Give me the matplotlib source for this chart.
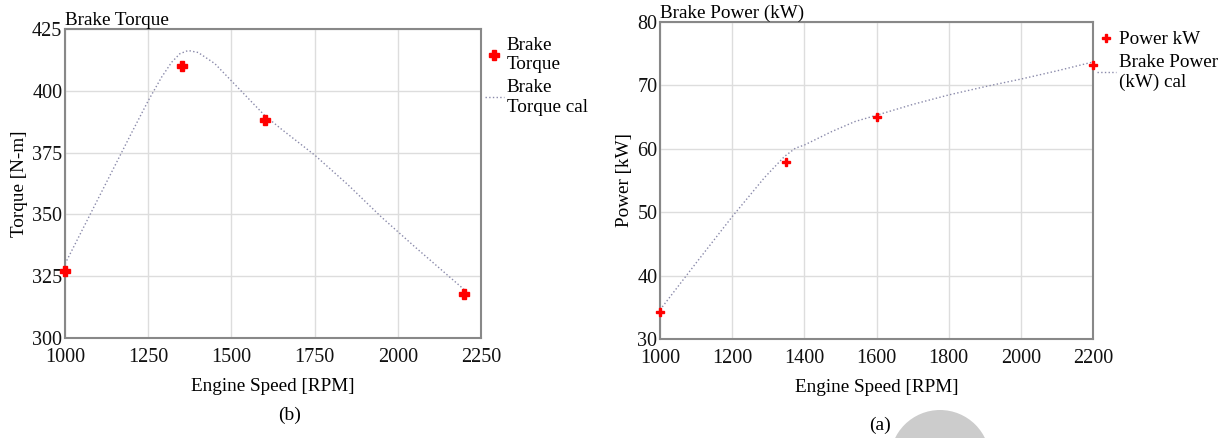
import matplotlib
matplotlib.use("Agg")
import matplotlib.pyplot as plt
from matplotlib.patches import Ellipse

plt.rcParams['font.family'] = ['Liberation Serif', 'DejaVu Serif']

# measured torque (b)
torque_rpm = [1000, 1350, 1600, 2200]
torque_nm = [327, 410, 388, 318]
# calculated torque curve
torque_cal_rpm = [1000, 1100, 1200, 1250, 1290, 1320, 1345, 1370, 1400, 1450,
                  1500, 1550, 1600, 1650, 1750, 1850, 1950, 2050, 2200]
torque_cal_nm = [330, 356.5, 383, 396, 405.5, 411.5, 415, 416.3, 415.5, 411,
                 404, 397, 390, 384.5, 374, 362, 349, 337, 319.5]

# measured power (a)
power_rpm = [1000, 1350, 1600, 2200]
power_kw = [34.3, 58.0, 65.0, 73.2]
power_cal_rpm = [1000, 1100, 1200, 1290, 1345, 1375, 1400, 1475, 1540, 1600,
                 1700, 1800, 1900, 2000, 2100, 2200]
power_cal_kw = [34.6, 42.0, 49.3, 55.5, 58.8, 60.1, 60.6, 62.7, 64.3, 65.3,
                67.0, 68.5, 69.8, 71.0, 72.3, 73.7]

torque_xticks = [1000, 1250, 1500, 1750, 2000, 2250]
torque_yticks = [300, 325, 350, 375, 400, 425]
power_xticks = [1000, 1200, 1400, 1600, 1800, 2000, 2200]
power_yticks = [30, 40, 50, 60, 70, 80]

fig = plt.figure(figsize=(12.25, 4.38), dpi=100)
ax1 = fig.add_axes([0.0531, 0.2283, 0.3396, 0.7055])
ax2 = fig.add_axes([0.5388, 0.2260, 0.3535, 0.7237])

line_col = '#8a8aaa'


def style(ax, xt, yt):
    ax.set_xticks(xt)
    ax.set_yticks(yt)
    ax.set_xlim(xt[0], xt[-1])
    ax.set_ylim(yt[0], yt[-1])
    ax.grid(True, color='#dddddd', linewidth=1)
    ax.set_axisbelow(True)
    ax.tick_params(length=0, labelsize=14.5, pad=2, colors='#111111')
    ax.tick_params(axis='x', pad=7)
    for s in ax.spines.values():
        s.set_color('#888888')
        s.set_linewidth(1.5)


def legend(ax, top):
    h, l = ax.get_legend_handles_labels()
    ax.legend(h[::-1], l[::-1], loc='upper left', bbox_to_anchor=(1.0, top), frameon=False,
              fontsize=13.8, handlelength=1.0, handletextpad=0.15, borderaxespad=0.0,
              labelspacing=0.3, borderpad=0.2)


ax1.plot(torque_cal_rpm, torque_cal_nm, linestyle=':', color=line_col, linewidth=1,
         label='Brake\nTorque cal', zorder=2)
ax1.plot(torque_rpm, torque_nm, linestyle='none', marker='P', color='red', markersize=7,
         label='Brake\nTorque', clip_on=False, zorder=3)
style(ax1, torque_xticks, torque_yticks)
ax1.set_title('Brake Torque', loc='left', fontsize=13.8, pad=1)
ax1.set_xlabel('Engine Speed [RPM]', fontsize=13.8, labelpad=8)
ax1.set_ylabel('Torque [N-m]', fontsize=13.8, labelpad=3)
legend(ax1, 0.987)

ax2.plot(power_cal_rpm, power_cal_kw, linestyle=':', color=line_col, linewidth=1,
         label='Brake Power\n(kW) cal', zorder=2)
ax2.plot(power_rpm, power_kw, linestyle='none', marker='P', color='red', markersize=6,
         label='Power kW', clip_on=False, zorder=3)
style(ax2, power_xticks, power_yticks)
ax2.set_title('Brake Power (kW)', loc='left', fontsize=13.8, pad=1)
ax2.set_xlabel('Engine Speed [RPM]', fontsize=13.8, labelpad=8)
ax2.set_ylabel('Power [kW]', fontsize=13.8, labelpad=3)
legend(ax2, 0.984)

fig.text(290 / 1225, 1 - 415 / 438, '(b)', fontsize=14, ha='center', va='center')
fig.text(880 / 1225, 1 - 425 / 438, '(a)', fontsize=14, ha='center', va='center')

# grey blob at the bottom edge of the source image
fig.patches.append(Ellipse((940 / 1225, 1 - 460 / 438), 100 / 1225, 100 / 438,
                           transform=fig.transFigure, facecolor='#cccccc',
                           edgecolor='none', zorder=0))

fig.savefig('out.png', dpi=100)
